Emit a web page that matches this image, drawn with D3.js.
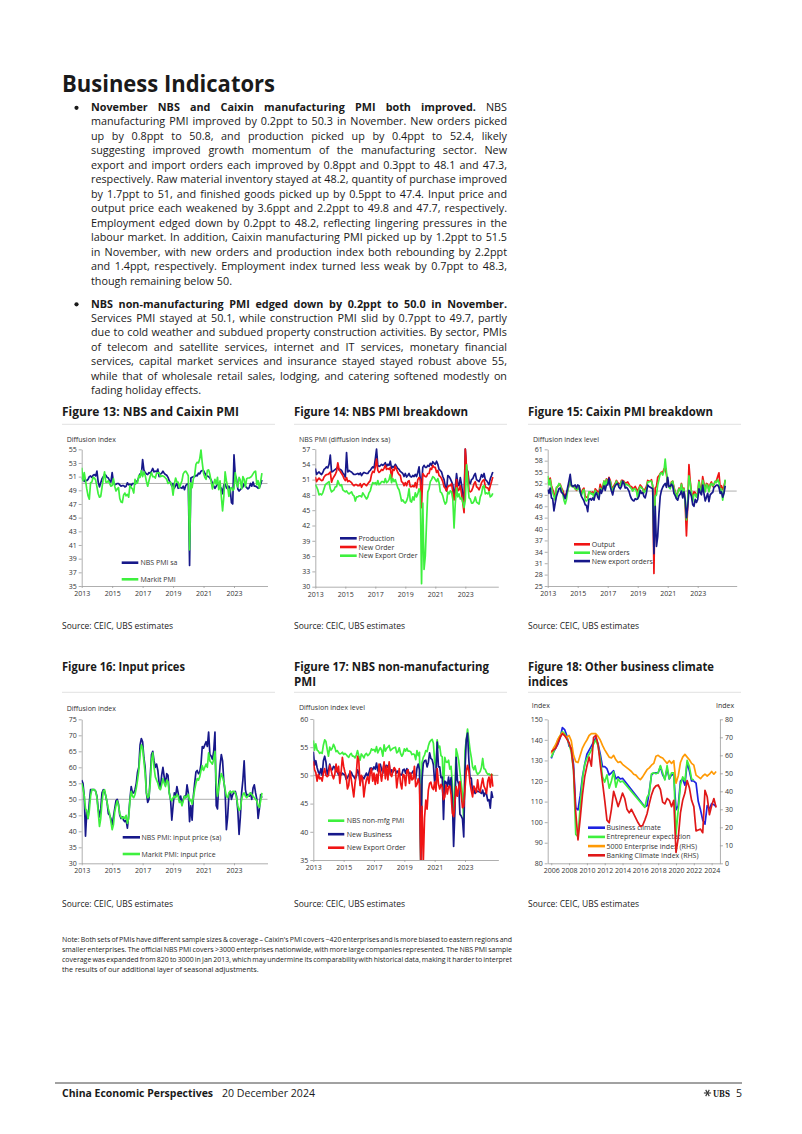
<!DOCTYPE html>
<html><head><meta charset="utf-8">
<script src="https://cdn.jsdelivr.net/npm/d3@7"></script>
<style>html,body{margin:0;padding:0;background:#fff;}svg{display:block;}</style>
</head><body>
<svg id="page" width="802" height="1134"></svg>
<script>
// ---------------- DATA (monthly from Jan 2013 to Nov 2024) ----------------
const monthlyStart = 2013;
const xTicks2013 = [2013, 2015, 2017, 2019, 2021, 2023];

// Figure 13
const nbsPmiSa = [50.6,50.9,50.3,50.5,50.4,50.6,51.0,51.1,50.9,51.2,51.3,51.1, 51.8,50.2,49.5,50.1,50.7,51.0,51.3,51.2,50.9,50.8,50.4,50.2, 51.6,50.2,49.8,49.9,50.0,50.0,49.8,49.6,49.7,49.7,49.5,49.6, 50.1,49.8,49.9,49.7,50.0,50.0,49.9,50.3,50.4,50.9,51.4,51.3, 53.5,52.0,51.6,51.4,51.3,51.6,51.5,51.8,52.2,51.7,51.8,51.7, 52.1,51.0,51.4,51.5,51.8,51.5,51.3,51.2,50.9,50.4,50.1,49.6, 50.0,49.3,49.7,50.0,49.3,49.4,49.4,49.3,49.6,49.1,49.7,49.9, 50.0,38.0,50.8,50.9,51.0,51.0,51.2,51.1,51.5,51.4,51.8,51.9, 51.9,51.5,51.2,51.1,51.0,50.8,50.5,50.1,49.6,49.3,49.6,49.9, 50.0,49.5,49.3,48.5,49.8,49.9,49.4,49.2,49.6,49.1,47.2,47.0, 54.2,51.2,50.6,49.2,48.9,49.1,49.3,49.5,50.0,49.6,49.4,49.2, 49.4,50.0,49.6,50.2,49.6,49.6,49.5,49.3,49.4,49.9,50.5];
const markitPmi = [52.3,50.4,51.6,50.4,49.2,48.2,47.7,50.1,50.2,50.9,50.8,50.5, 49.5,48.5,48.0,48.1,49.4,50.7,51.7,50.2,50.2,50.4,50.0,49.6, 49.7,50.7,49.6,48.9,49.2,49.4,47.8,47.3,47.2,48.3,48.6,48.2, 48.4,48.0,49.7,49.4,49.2,48.6,50.6,50.0,50.1,51.2,50.9,51.9, 51.0,51.7,51.2,50.3,49.6,50.4,51.1,51.6,51.0,51.0,50.8,51.5, 51.5,51.6,51.0,51.1,51.1,51.0,50.8,50.6,50.0,50.1,50.2,49.7, 48.3,49.9,50.8,50.2,50.2,49.4,49.9,50.4,51.4,51.7,51.8,51.5, 51.1,40.3,50.1,49.4,50.7,51.2,52.8,53.1,53.0,53.6,54.9,53.0, 51.5,50.9,50.6,51.9,52.0,51.3,50.3,49.2,50.0,50.6,49.9,50.9, 49.1,50.4,48.1,46.0,48.1,51.7,50.4,49.5,48.1,49.2,49.4,49.0, 49.2,51.6,50.0,49.5,50.9,50.5,49.2,51.0,50.6,49.5,50.7,50.8, 50.8,50.9,51.1,51.4,51.7,51.8,49.8,50.4,49.3,50.3,51.5];

// Figure 14
const nbsProduction = [53.2,52.0,52.3,52.5,52.2,52.0,52.4,53.0,53.2,53.5,53.3,54.0, 55.8,52.5,52.6,52.8,53.0,53.2,53.5,52.9,53.0,52.8,52.3,52.0, 51.5,56.3,52.5,52.8,52.6,52.5,52.2,52.0,52.0,52.1,52.2,52.0, 52.3,51.8,52.2,52.4,52.3,52.2,52.2,52.6,52.8,53.2,53.5,53.3, 55.0,57.0,53.8,53.6,53.7,54.0,53.8,54.0,54.3,53.6,54.0,53.8, 54.6,53.2,53.6,53.4,54.0,53.6,53.2,53.0,52.6,52.4,52.2,51.6, 52.2,51.5,51.8,52.2,51.6,51.5,51.8,51.6,52.0,51.6,52.4,53.5, 51.0,50.0,53.4,53.8,53.4,53.4,53.8,53.6,54.2,53.8,54.5,54.2, 54.0,54.6,54.0,53.0,52.8,52.5,51.6,51.0,49.6,48.8,51.8,51.6, 51.2,50.6,50.0,47.5,49.5,52.2,50.2,49.8,51.4,50.0,48.0,47.0, 57.0,53.0,52.6,50.5,50.2,51.0,51.2,51.8,52.2,51.0,50.8,50.6, 51.2,52.0,51.5,52.2,51.0,50.8,50.4,50.0,51.2,51.8,52.5];
const nbsNewOrder = [51.5,50.6,51.0,51.3,51.0,50.8,50.9,51.5,51.8,52.0,52.0,52.2, 52.5,50.5,51.2,51.6,52.0,52.6,54.3,53.0,52.6,52.2,51.8,51.2, 50.8,51.4,50.6,50.8,50.6,50.4,50.0,49.8,50.0,50.0,49.8,49.8, 50.2,49.5,50.0,50.2,50.0,49.8,50.2,50.5,50.8,52.0,52.6,52.4, 53.4,55.0,52.8,52.4,52.6,53.0,52.8,53.2,53.8,53.0,53.2,53.0, 53.4,51.2,53.0,52.8,53.6,53.0,52.4,52.0,51.8,50.6,50.4,49.8, 50.4,49.8,50.6,50.8,49.6,49.6,49.8,49.6,50.4,49.4,51.0,51.4, 51.0,45.5,52.2,51.8,51.6,51.6,52.2,52.2,53.2,53.0,53.8,53.4, 53.4,52.4,52.8,51.8,51.6,51.2,50.6,49.6,49.3,48.8,49.6,49.8, 49.8,50.2,48.6,47.0,48.4,51.0,48.8,49.0,49.8,48.2,46.4,44.5, 57.0,53.2,52.4,48.8,48.6,48.8,49.4,50.2,50.6,49.6,49.4,49.0, 49.6,50.4,50.8,51.0,49.6,49.4,49.4,48.8,49.8,50.6,51.5];
const nbsNewExport = [50.0,49.6,49.0,48.0,48.2,48.0,48.4,49.2,50.0,50.2,50.4,50.6, 49.2,48.6,48.8,49.0,49.6,49.6,50.8,50.2,49.8,50.0,49.0,48.8, 48.6,48.8,48.4,48.2,48.4,48.6,48.0,47.8,46.8,47.6,47.6,47.8, 47.8,47.6,48.4,48.0,47.6,47.2,47.6,48.4,48.8,49.8,50.4,50.2, 50.4,50.0,50.8,50.0,50.2,50.6,50.6,50.4,51.2,50.4,50.6,51.0, 52.0,50.4,51.2,50.6,51.0,50.2,49.4,49.0,48.0,46.8,47.0,46.6, 46.4,46.8,47.6,49.2,46.8,46.6,47.6,47.0,48.4,47.6,48.2,49.2, 48.4,30.6,46.4,33.4,36.0,42.6,48.6,49.2,50.6,51.0,51.6,51.4, 51.0,50.6,51.2,50.4,48.6,48.4,47.8,46.8,46.2,46.6,48.6,48.2, 48.8,48.6,47.2,41.5,46.4,49.4,47.6,48.2,47.2,47.4,46.6,45.5, 47.0,53.9,50.2,47.4,47.2,46.4,46.4,46.8,47.6,46.6,46.4,46.2, 47.6,48.2,49.6,49.8,48.2,48.4,48.2,48.6,47.6,47.8,48.3];

// Figure 15
const cxOutput = [52.0,52.6,53.4,51.4,50.4,49.4,48.6,50.8,51.2,51.6,51.8,50.8, 50.2,49.2,48.6,49.4,50.2,51.6,52.4,51.4,51.2,51.2,50.6,50.2, 50.6,51.2,50.0,49.6,50.4,50.8,48.6,48.4,48.2,49.6,49.8,49.4, 49.8,48.8,50.6,50.2,49.8,49.6,51.8,50.8,51.0,52.6,51.8,53.2, 52.4,53.6,52.8,51.4,50.6,51.4,52.0,52.8,52.2,52.0,51.6,52.8, 52.8,52.6,52.0,52.2,52.4,51.8,51.2,51.2,50.6,50.8,51.2,50.6, 49.8,50.8,51.6,51.2,50.6,49.6,50.6,51.2,52.8,52.6,52.6,53.0, 51.2,28.3,50.8,51.2,53.6,54.0,54.6,55.0,54.8,55.8,56.0,54.4, 51.8,51.2,50.8,52.4,52.6,51.0,49.8,48.6,49.6,50.8,50.2,52.0, 50.4,50.8,46.4,38.2,46.2,57.0,52.6,49.8,48.2,49.8,49.6,48.6, 49.4,52.8,50.8,50.4,53.8,52.0,50.2,52.0,51.8,50.2,51.8,52.4, 51.2,51.8,52.4,52.8,53.8,54.8,50.8,51.4,50.4,51.2,52.8];
const cxNewOrders = [54.0,51.6,53.0,51.0,49.6,48.6,47.6,51.0,51.2,52.0,51.6,50.6, 49.4,47.6,46.6,47.8,50.0,51.8,52.8,51.2,51.4,51.0,50.6,50.4, 50.4,51.4,49.6,48.8,50.0,50.4,47.6,47.4,47.8,49.8,49.6,49.2, 49.4,48.2,50.2,49.6,49.4,48.6,50.8,50.2,50.6,52.6,51.2,53.0, 51.8,52.6,52.6,51.0,50.0,51.0,51.6,52.6,51.8,51.6,51.4,52.6, 52.2,52.4,51.6,51.8,51.6,51.4,51.0,50.6,50.0,50.6,50.6,50.0, 48.0,50.4,51.2,50.8,50.6,49.6,50.0,50.6,52.4,52.4,52.6,52.6, 51.4,36.0,48.6,49.0,51.6,53.0,54.6,54.8,54.2,55.2,58.4,55.0, 52.0,51.0,50.6,52.2,52.6,50.6,49.6,48.0,49.6,50.6,50.0,51.8, 49.6,50.6,46.6,42.4,47.8,54.0,52.2,49.6,47.2,49.0,49.2,48.4, 49.4,52.4,50.6,49.6,52.8,51.6,49.8,51.8,51.4,49.8,51.6,52.0, 51.4,51.8,52.6,52.2,53.0,52.4,49.6,50.6,47.6,50.0,53.0];
const cxNewExport = [50.4,49.4,50.8,48.2,48.0,44.8,46.8,48.6,49.6,50.6,50.8,49.6, 49.4,48.8,48.0,49.4,51.0,52.6,54.4,51.6,51.2,51.4,51.6,50.8, 51.6,51.4,49.8,48.6,48.0,47.4,46.4,46.2,44.6,47.8,48.0,47.6, 48.2,47.6,49.0,49.6,48.4,47.8,50.4,49.4,50.4,51.4,50.2,51.6, 51.6,53.4,51.2,50.0,49.0,50.6,51.4,51.8,52.0,51.0,50.6,51.2, 52.6,52.0,50.8,51.0,50.6,50.0,48.8,48.0,47.6,47.4,48.0,47.8, 48.0,48.6,50.2,49.4,49.6,48.6,48.2,49.6,51.6,51.2,51.0,50.8, 50.6,33.5,46.0,35.4,38.0,44.0,48.6,50.2,51.0,51.6,52.0,51.0, 53.6,51.2,51.2,51.8,51.4,49.4,48.8,48.0,47.6,48.8,49.2,50.0, 48.2,49.8,47.6,43.0,45.8,50.2,49.6,48.6,46.4,46.0,47.8,47.0, 47.8,50.6,49.6,49.0,51.6,49.4,47.4,48.4,49.4,47.2,49.0,49.4, 49.6,51.0,51.2,51.6,51.6,51.0,49.4,49.8,48.4,49.4,51.4];

// Figure 16
const nbsInputPrice = [56.0,55.0,51.0,38.5,46.0,44.0,49.0,53.0,53.0,53.0,53.0,52.5, 51.0,47.0,44.5,47.0,52.0,53.0,52.5,51.0,49.0,45.5,45.0,44.0, 42.0,44.5,47.0,49.5,50.0,48.5,45.0,44.0,44.5,43.5,43.0,43.5, 41.0,45.0,50.0,54.0,52.0,52.0,53.0,55.0,58.5,60.0,67.0,69.0, 68.0,63.0,60.0,52.0,49.0,50.0,57.0,64.0,65.0,62.0,60.0,61.0, 59.0,55.0,53.5,57.5,60.0,57.0,54.5,58.0,57.5,52.0,50.0,43.5, 48.0,52.0,51.0,54.0,52.0,49.5,51.0,48.5,50.0,51.0,50.5,54.5, 52.0,43.0,48.0,43.5,51.0,55.0,58.5,59.0,58.0,58.5,61.0,66.5, 66.0,67.0,68.0,66.5,71.0,64.0,63.5,62.5,65.0,71.0,48.0,47.0, 55.0,60.5,64.0,62.0,55.5,52.5,40.5,44.5,51.5,52.5,50.0,51.5, 52.0,52.5,51.0,46.5,39.0,44.5,52.0,56.0,62.0,53.0,51.0,51.5, 51.0,52.0,50.0,53.5,54.5,52.0,50.0,44.0,47.0,51.5,50.5];
const markitInputPrice = [55.0,53.5,51.0,47.0,46.5,44.0,46.5,51.0,53.0,53.0,53.0,52.5, 50.5,46.0,41.5,44.0,49.0,52.5,53.0,51.0,49.0,47.0,45.5,43.0, 40.5,42.0,46.0,48.0,49.5,48.0,45.5,44.5,44.0,44.5,44.0,45.0, 42.5,44.0,49.5,52.5,51.0,50.5,51.5,53.5,56.0,59.0,64.0,67.0, 66.0,62.0,58.0,52.0,50.5,51.0,55.0,62.0,64.5,60.0,57.0,56.0, 55.0,53.5,53.0,54.5,56.5,55.0,54.0,56.0,55.5,52.0,50.0,49.5, 50.5,51.0,50.5,51.5,51.0,49.0,49.5,48.0,49.5,51.0,50.5,51.0, 51.5,49.5,50.0,48.5,50.5,53.0,55.0,56.5,56.0,57.0,59.0,60.5, 59.0,60.0,61.0,60.0,64.5,62.0,61.5,61.0,62.5,65.0,55.0,51.0, 53.5,56.0,58.0,57.0,55.5,53.0,51.0,50.5,52.0,52.5,52.0,52.5, 52.5,52.0,50.5,48.0,46.5,47.0,50.0,51.5,52.0,51.0,50.5,51.0, 51.5,52.0,51.5,51.0,50.5,50.0,49.5,48.0,47.5,49.5,52.0];

// Figure 17
const nonMfgPmi = [56.2,54.5,55.6,54.5,54.3,53.9,54.1,53.9,55.4,56.3,56.0,54.6, 53.4,55.0,54.5,54.8,55.5,55.0,54.2,54.4,54.0,53.8,53.9,54.1, 53.7,53.9,53.7,53.4,53.2,53.7,53.9,53.4,53.4,53.1,53.6,54.4, 53.5,52.7,53.8,53.5,53.1,53.7,53.9,53.5,53.7,54.0,54.7,54.5, 54.6,54.2,55.1,54.0,54.5,54.9,54.5,53.4,55.4,54.3,54.8,55.0, 55.3,54.4,54.6,54.8,54.9,55.0,54.0,54.2,54.9,53.9,53.4,53.8, 54.7,54.3,54.8,54.3,54.3,54.2,53.7,53.8,53.7,52.8,54.4,53.5, 54.1,29.6,52.3,53.2,53.6,54.4,54.2,55.2,55.9,56.2,56.4,55.7, 52.4,51.4,56.3,54.9,55.2,53.5,53.3,47.5,53.2,52.4,52.3,52.7, 51.1,51.6,48.4,41.9,47.8,54.7,53.8,52.6,50.6,48.7,46.7,41.6, 54.4,56.3,58.2,56.4,54.5,53.2,51.5,51.0,51.7,50.6,50.2,50.4, 50.7,51.4,53.0,51.2,51.1,50.5,50.2,50.3,50.0,50.2,50.0];
const nonMfgNewBusiness = [54.2,51.8,52.6,51.4,50.6,50.2,51.2,50.0,52.6,53.4,52.4,50.2, 50.9,52.0,51.1,51.0,51.6,51.4,50.7,50.7,50.1,50.5,50.1,50.4, 50.2,50.1,49.3,49.6,50.0,50.5,50.6,50.0,49.8,49.4,49.8,51.0, 50.4,48.6,49.8,49.7,49.4,49.9,50.4,49.8,50.4,51.3,51.3,51.0, 51.5,51.1,52.2,50.8,51.6,52.0,51.1,50.4,52.2,51.1,51.8,51.4, 52.0,50.2,51.0,50.6,51.0,50.9,50.4,50.8,50.4,50.1,50.1,51.0, 51.1,50.4,51.2,50.8,50.3,50.3,50.4,50.8,50.2,49.4,51.3,52.0, 51.0,26.5,49.2,52.1,52.6,52.7,51.5,52.3,54.0,53.0,52.8,51.9, 48.7,50.2,55.9,51.5,51.5,49.6,49.7,42.2,49.0,48.8,48.1,49.7, 47.9,49.6,45.7,37.4,43.5,53.2,49.1,48.5,43.1,42.8,42.3,39.1, 50.9,56.3,57.5,52.9,49.5,49.5,46.9,47.5,46.8,47.1,47.2,47.1, 47.0,46.8,47.4,46.3,46.9,46.7,45.5,45.7,44.2,47.1,46.0];
const nonMfgNewExport = [52.5,51.0,50.5,49.0,50.2,49.4,49.6,49.0,50.4,51.2,50.0,49.8, 50.0,51.8,51.0,50.0,49.4,50.2,52.0,50.6,51.6,48.6,50.6,53.2, 51.6,50.6,49.8,47.6,48.2,50.8,49.4,47.8,46.2,48.6,50.2,53.4, 52.6,48.2,50.0,49.4,46.2,48.0,49.2,49.8,48.6,50.4,51.2,49.0, 50.4,48.4,50.2,48.6,52.0,50.6,49.0,50.8,52.4,49.4,51.6,49.2, 52.4,50.2,49.8,50.8,51.4,51.0,47.8,49.6,51.2,48.6,47.6,50.2, 50.0,48.2,50.8,51.0,48.6,50.4,49.2,49.4,51.6,48.0,48.4,49.4, 48.4,30.0,44.5,34.0,42.5,45.6,44.0,47.4,48.6,48.8,47.8,47.5, 48.8,47.2,51.2,48.5,47.6,48.4,47.9,45.7,46.2,48.3,46.7,48.0, 48.1,46.6,43.3,42.7,45.0,48.0,46.3,47.8,48.9,46.6,44.3,44.5, 47.6,50.6,51.8,50.9,48.6,47.3,46.2,48.1,47.6,47.0,49.2,47.5, 47.1,48.4,49.5,48.1,47.6,46.8,49.0,49.7,47.9,50.2,48.0];

// Figure 18 (quarterly from 2006Q1 to 2024Q3; null = not published)
const quarterlyStart = 2006;
const xTicks2006 = [2006, 2008, 2010, 2012, 2014, 2016, 2018, 2020, 2022, 2024];
const businessClimate = [131,134,136,138, 141,146,145,142, 137,136,128,107, 106,113,122,128, 133,135,137,139, 141,138,133,127, 127,126,123,124, 125,121,122,121, 121.3,null,null,null, null,null,null,null, null,null,107.5,108, 115,123,124,124, 124,127,123,121, 126,121,123,123, 106,108,120,121, 118,129,125,120, 120,119,110,106, 101,99,108,106.5, 109,108.5,107.5];
const entrepreneurExpectation = [131.5,134,137,140, 142,144,143,141, 138,134,125,94, 93,108,121,128, 131,133,135,138, 140,137,131,122, 119.5,123,116.5,120, 124.5,117,121,119.5, 120,null,null,null, null,null,null,null, null,null,107.2,112, 114,123.5,124,123.5, 124,127.5,124,120.5, 127.5,121,124,124, 94,106,118,122, 120,130,127,121, 120.5,null,null,null, null,null,null,null, null,null,null];
const enterprise5000 = [61,64,66,69, 71,72.5,71,70, 71,68,60,56.5, 56,60,64,66.5, 68.5,71,72,72, 72,70.5,68.5,65.5, 63,61,59,58.5, 60,57.5,56,56.5, 55,54,53,52, 51,49.5,49,47.5, 46.5,48,50,52, 53,54.5,55.5,59.5, 60,59,58.5,57, 55.5,57,55.5,57, 44.5,48.5,56,59, 60.5,59,57.5,55.5, 54.5,49,48,47, 48.5,49.5,48.5,49.5, 51,49.5,51];
const bankingClimate = [62,63,64,67, 70,72,71,69, 67,63,52,28, 13,25,38,48, 54,59,54,70, 71,66,55,45, 35,24,22.5,30, 40,36,31.5,35, 39,36,30,28, 30,27.5,25,22.5, 20.5,21,24,27.5, 33,38,41.5,43, 43.5,41,34,33, 36,35,31.5,35, 6,14,28,35, 39,46,42,35, 31.5,18,18.5,19, 17,40.5,37,27, 32,36,31];

// ---------------- TEXT ----------------
const para1 = [
  [{t:"November NBS and Caixin manufacturing PMI both improved.", b:true},{t:" NBS"}],
  [{t:"manufacturing PMI improved by 0.2ppt to 50.3 in November. New orders picked"}],
  [{t:"up by 0.8ppt to 50.8, and production picked up by 0.4ppt to 52.4, likely"}],
  [{t:"suggesting improved growth momentum of the manufacturing sector. New"}],
  [{t:"export and import orders each improved by 0.8ppt and 0.3ppt to 48.1 and 47.3,"}],
  [{t:"respectively. Raw material inventory stayed at 48.2, quantity of purchase improved"}],
  [{t:"by 1.7ppt to 51, and finished goods picked up by 0.5ppt to 47.4. Input price and"}],
  [{t:"output price each weakened by 3.6ppt and 2.2ppt to 49.8 and 47.7, respectively."}],
  [{t:"Employment edged down by 0.2ppt to 48.2, reflecting lingering pressures in the"}],
  [{t:"labour market. In addition, Caixin manufacturing PMI picked up by 1.2ppt to 51.5"}],
  [{t:"in November, with new orders and production index both rebounding by 2.2ppt"}],
  [{t:"and 1.4ppt, respectively. Employment index turned less weak by 0.7ppt to 48.3,"}],
  [{t:"though remaining below 50."}]
];
const para2 = [
  [{t:"NBS non-manufacturing PMI edged down by 0.2ppt to 50.0 in November.", b:true}],
  [{t:"Services PMI stayed at 50.1, while construction PMI slid by 0.7ppt to 49.7, partly"}],
  [{t:"due to cold weather and subdued property construction activities. By sector, PMIs"}],
  [{t:"of telecom and satellite services, internet and IT services, monetary financial"}],
  [{t:"services, capital market services and insurance stayed stayed robust above 55,"}],
  [{t:"while that of wholesale retail sales, lodging, and catering softened modestly on"}],
  [{t:"fading holiday effects."}]
];
const noteLines = [
  "Note: Both sets of PMIs have different sample sizes & coverage \u2013 Caixin's PMI covers ~420 enterprises and is more biased to eastern regions and",
  "smaller enterprises. The official NBS PMI covers >3000 enterprises nationwide, with more large companies represented. The NBS PMI sample",
  "coverage was expanded from 820 to 3000 in Jan 2013, which may undermine its comparability with historical data, making it harder to interpret",
  "the results of our additional layer of seasonal adjustments."
];

// ---------------- DRAWING ----------------
const FONT = "'Open Sans', 'Noto Sans', sans-serif";
const svg = d3.select('#page');
const NAVY = '#17188a', GREEN = '#3ef03e', RED = '#f01414', BLUE = '#1d22e0', ORANGE = '#ff9a05', DRED = '#e01818';

function fit(sel, target){
  const w = sel.node().getComputedTextLength();
  if (Math.abs(w - target) > 0.5) sel.attr('textLength', target).attr('lengthAdjust', 'spacingAndGlyphs');
  return sel;
}
function label(x, y, txt, size, opts={}){
  const s = svg.append('text').attr('x', x).attr('y', y).attr('font-family', FONT)
    .attr('font-size', size).attr('fill', opts.fill || '#1a1a1a')
    .attr('font-weight', opts.bold ? 700 : 400).attr('text-anchor', opts.anchor || 'start').text(txt);
  if (opts.width) fit(s, opts.width);
  return s;
}
function justifiedLine(x, y, width, segs, size, justify){
  const words = [];
  segs.forEach(s => s.t.split(' ').filter(w => w.length).forEach(w => words.push({w, b: !!s.b})));
  const t = svg.append('text').attr('y', y).attr('font-family', FONT).attr('font-size', size).attr('fill', '#1a1a1a');
  const spans = words.map(o => t.append('tspan').attr('font-weight', o.b ? 700 : 400).text(o.w));
  const widths = spans.map(s => s.node().getComputedTextLength());
  const total = d3.sum(widths);
  const sp = size * 0.26;
  let gap = justify ? (width - total) / (words.length - 1) : sp;
  let k = 1;
  if (justify && gap < size * 0.17) { gap = size * 0.17; k = width / (total + gap * (words.length - 1)); }
  let cx = x;
  spans.forEach((s, i) => { s.attr('x', cx); cx += widths[i] + gap; });
  if (k !== 1) t.attr('transform', `translate(${x},0) scale(${k},1) translate(${-x},0)`);
}

// Title
label(62, 92, 'Business Indicators', 24, {bold:true, width:213});

// Paragraphs
const LH = 14.47, BODY = 10.8;
para1.forEach((segs, i) => justifiedLine(91, 111 + i * LH, 416, segs, BODY, i < para1.length - 1));
para2.forEach((segs, i) => justifiedLine(91, 307.5 + i * LH, 416, segs, BODY, i < para2.length - 1));
svg.append('circle').attr('cx', 76.5).attr('cy', 107.8).attr('r', 2.1).attr('fill', '#1a1a1a');
svg.append('circle').attr('cx', 76.5).attr('cy', 304.3).attr('r', 2.1).attr('fill', '#1a1a1a');

// Figure titles, rules, sources
const titles = [
  {x:62, y:416, lines:[['Figure 13: NBS and Caixin PMI',177]], rule:424.3},
  {x:294, y:416, lines:[['Figure 14: NBS PMI breakdown',174]], rule:424.3},
  {x:528, y:416, lines:[['Figure 15: Caixin PMI breakdown',185]], rule:424.3},
  {x:62, y:670.5, lines:[['Figure 16: Input prices',123]], rule:692.3},
  {x:294, y:670.5, lines:[['Figure 17: NBS non-manufacturing',195],['PMI',22]], rule:692.3},
  {x:528, y:670.5, lines:[['Figure 18: Other business climate',186],['indices',40]], rule:692.3}
];
titles.forEach(f => {
  f.lines.forEach((l, i) => label(f.x, f.y + i * 15.6, l[0], 11.6, {bold:true, width:l[1]}));
  svg.append('line').attr('x1', f.x).attr('x2', f.x + 213).attr('y1', f.rule).attr('y2', f.rule)
    .attr('stroke', '#e2e2e2').attr('stroke-width', 1);
  label(f.x, f.rule < 500 ? 628.5 : 906.5, 'Source: CEIC, UBS estimates', 9.3, {width:111});
});

// Note
noteLines.forEach((l, i) => justifiedLine(62, 942.5 + i * 9.7, 450, [{t:l}], 7.2, i < 3));

// Footer
svg.append('line').attr('x1', 55).attr('x2', 742).attr('y1', 1083).attr('y2', 1083).attr('stroke', '#444').attr('stroke-width', 1);
label(62, 1097, 'China Economic Perspectives', 10.5, {bold:true, width:151});
label(222, 1097, '20 December 2024', 10.5, {width:93});
const logo = svg.append('g').attr('transform', 'translate(707.5,1093)').attr('stroke', '#333').attr('stroke-width', 1.1);
[0, 60, 120].forEach(a => logo.append('line').attr('x1', -3.6).attr('x2', 3.6).attr('y1', 0).attr('y2', 0).attr('transform', `rotate(${a})`));
const ubs = svg.append('text').attr('x', 713).attr('y', 1097).attr('font-family', "'DejaVu Serif', 'Liberation Serif', serif")
  .attr('font-size', 9.5).attr('font-weight', 700).attr('fill', '#1a1a1a').text('UBS');
fit(ubs, 17);
label(736, 1097, '5', 10.5);

// -------- chart helper --------
let clipId = 0;
function chart(c){
  const g = svg.append('g');
  const x = d3.scaleLinear().domain([c.t0, c.t1]).range([c.x0, c.x0 + (c.t1 - c.t0) * c.ppy]);
  const y = d3.scaleLinear().domain(c.yDom).range(c.yRange);
  const [xl, xr] = x.range();
  if (c.ref != null) g.append('line').attr('x1', xl).attr('x2', xr).attr('y1', y(c.ref)).attr('y2', y(c.ref)).attr('stroke', '#9a9a9a').attr('stroke-width', 0.8);
  const styleAxis = a => {
    a.select('.domain').attr('stroke', '#9a9a9a').attr('stroke-width', 0.8);
    a.selectAll('.tick line').attr('stroke', '#9a9a9a').attr('stroke-width', 0.8);
    a.selectAll('.tick text').attr('font-family', FONT).attr('font-size', 7).attr('fill', '#333');
  };
  const axL = g.append('g').attr('transform', `translate(${xl},0)`)
    .call(d3.axisLeft(y).tickValues(c.yTicks).tickSize(3).tickSizeOuter(0).tickPadding(2).tickFormat(d3.format('d')));
  styleAxis(axL);
  let yR = null;
  if (c.yDomR) {
    yR = d3.scaleLinear().domain(c.yDomR).range(c.yRange);
    const axR = g.append('g').attr('transform', `translate(${xr},0)`)
      .call(d3.axisRight(yR).tickValues(c.yTicksR).tickSize(3).tickSizeOuter(0).tickPadding(2).tickFormat(d3.format('d')));
    styleAxis(axR);
  }
  const axB = g.append('g').attr('transform', `translate(0,${c.yRange[0]})`)
    .call(d3.axisBottom(x).tickValues(c.xTicks).tickSize(2).tickSizeOuter(0).tickPadding(3).tickFormat(d3.format('d')));
  styleAxis(axB);
  (c.axisTitles || []).forEach(a => label(a[0], a[1], a[2], 7, {fill:'#333'}));
  const drawLegend = () => c.legend.items.forEach((it, i) => {
    const ly = c.legend.y0 + i * c.legend.dy;
    g.append('line').attr('x1', c.legend.x1).attr('x2', c.legend.x2).attr('y1', ly).attr('y2', ly)
      .attr('stroke', it.color).attr('stroke-width', 2.6);
    g.append('text').attr('x', c.legend.tx).attr('y', ly + 2.5).attr('font-family', FONT).attr('font-size', 7)
      .attr('fill', '#333').text(it.name);
  });
  if (c.legendUnder) drawLegend();
  const id = 'clip' + (clipId++);
  svg.append('clipPath').attr('id', id).append('rect')
    .attr('x', xl).attr('y', c.yRange[1] - 2).attr('width', xr - xl).attr('height', c.yRange[0] - c.yRange[1] + 2);
  const lg = g.append('g').attr('clip-path', `url(#${id})`);
  c.series.forEach(s => {
    const sc = s.right ? yR : y;
    const lo = sc.domain()[0] - 0.5;
    const pts = s.values.map((v, i) => ({t: c.tStart + i * c.step, v})).filter(d => d.v != null);
    lg.append('path').datum(pts).attr('fill', 'none').attr('stroke', s.color).attr('stroke-width', s.w || 1.7)
      .attr('stroke-linejoin', 'round')
      .attr('d', d3.line().x(d => x(d.t)).y(d => sc(Math.max(lo, d.v))));
  });
  if (!c.legendUnder) drawLegend();
}

// Figure 13
chart({t0:2013, t1:2025.2, x0:81.7, ppy:15.23, yDom:[35,55], yRange:[586,449.3], yTicks:d3.range(35,56,2),
  xTicks:xTicks2013, ref:50, tStart:monthlyStart, step:1/12,
  axisTitles:[[66.7,441.5,'Diffusion index']],
  series:[{values:nbsPmiSa, color:NAVY},{values:markitPmi, color:GREEN}],
  legend:{x1:121.7, x2:138.3, tx:140.5, y0:562.7, dy:16.6, items:[{name:'NBS PMI sa', color:NAVY},{name:'Markit PMI', color:GREEN}]}});

// Figure 14
chart({t0:2013, t1:2025.2, x0:315.3, ppy:15, yDom:[30,57], yRange:[586.7,449], yTicks:d3.range(30,58,3),
  xTicks:xTicks2013, ref:50, tStart:monthlyStart, step:1/12,
  axisTitles:[[299,441.5,'NBS PMI (diffusion index sa)']],
  series:[{values:nbsProduction, color:NAVY},{values:nbsNewOrder, color:RED},{values:nbsNewExport, color:GREEN}],
  legend:{x1:340, x2:356.7, tx:358.5, y0:538.3, dy:8.7, items:[{name:'Production', color:NAVY},{name:'New Order', color:RED},{name:'New Export Order', color:GREEN}]}});

// Figure 15
chart({t0:2013, t1:2025.6, x0:547.7, ppy:15, yDom:[25,61], yRange:[586,449.3], yTicks:d3.range(25,62,3),
  xTicks:xTicks2013, ref:50, tStart:monthlyStart, step:1/12,
  axisTitles:[[533,441.5,'Diffusion index level']],
  series:[{values:cxOutput, color:RED},{values:cxNewOrders, color:GREEN},{values:cxNewExport, color:NAVY}],
  legend:{x1:574, x2:590, tx:591.7, y0:544.3, dy:8.4, items:[{name:'Output', color:RED},{name:'New orders', color:GREEN},{name:'New export orders', color:NAVY}]}});

// Figure 16
chart({t0:2013, t1:2025.2, x0:81.7, ppy:15.23, yDom:[30,75], yRange:[863.3,719.3], yTicks:d3.range(30,76,5),
  xTicks:xTicks2013, ref:50, tStart:monthlyStart, step:1/12,
  axisTitles:[[66.7,710.8,'Diffusion index']],
  series:[{values:nbsInputPrice, color:NAVY},{values:markitInputPrice, color:GREEN}],
  legend:{x1:122.7, x2:140, tx:141.5, y0:837.3, dy:16.7, items:[{name:'NBS PMI: input price (sa)', color:NAVY},{name:'Markit PMI: input price', color:GREEN}]}});

// Figure 17
chart({t0:2013, t1:2025.2, x0:313.3, ppy:15.17, yDom:[35,60], yRange:[860,719], yTicks:d3.range(35,61,5),
  xTicks:xTicks2013, ref:50, tStart:monthlyStart, step:1/12,
  axisTitles:[[299,710,'Diffusion index level']],
  series:[{values:nonMfgPmi, color:GREEN},{values:nonMfgNewBusiness, color:NAVY},{values:nonMfgNewExport, color:RED}],
  legend:{x1:328, x2:344.3, tx:346.7, y0:820.7, dy:13.5, items:[{name:'NBS non-mfg PMI', color:GREEN},{name:'New Business', color:NAVY},{name:'New Export Order', color:RED}]}});

// Figure 18
chart({t0:2005.6, t1:2024.93, x0:547.7, ppy:8.91, yDom:[80,150], yRange:[863.3,719.3], yTicks:d3.range(80,151,10),
  yDomR:[0,80], yTicksR:d3.range(0,81,10),
  xTicks:xTicks2006, ref:null, tStart:quarterlyStart, step:0.25, legendUnder:true,
  axisTitles:[[531.7,708,'Index'],[716,708,'Index']],
  series:[{values:businessClimate, color:BLUE},{values:entrepreneurExpectation, color:GREEN},
          {values:enterprise5000, color:ORANGE, right:true},{values:bankingClimate, color:DRED, right:true}],
  legend:{x1:588, x2:605, tx:606.5, y0:827.7, dy:9.2, items:[{name:'Business climate', color:BLUE},{name:'Entrepreneur expectation', color:GREEN},{name:'5000 Enterprise index (RHS)', color:ORANGE},{name:'Banking Climate Index (RHS)', color:DRED}]}});
</script>
</body></html>
